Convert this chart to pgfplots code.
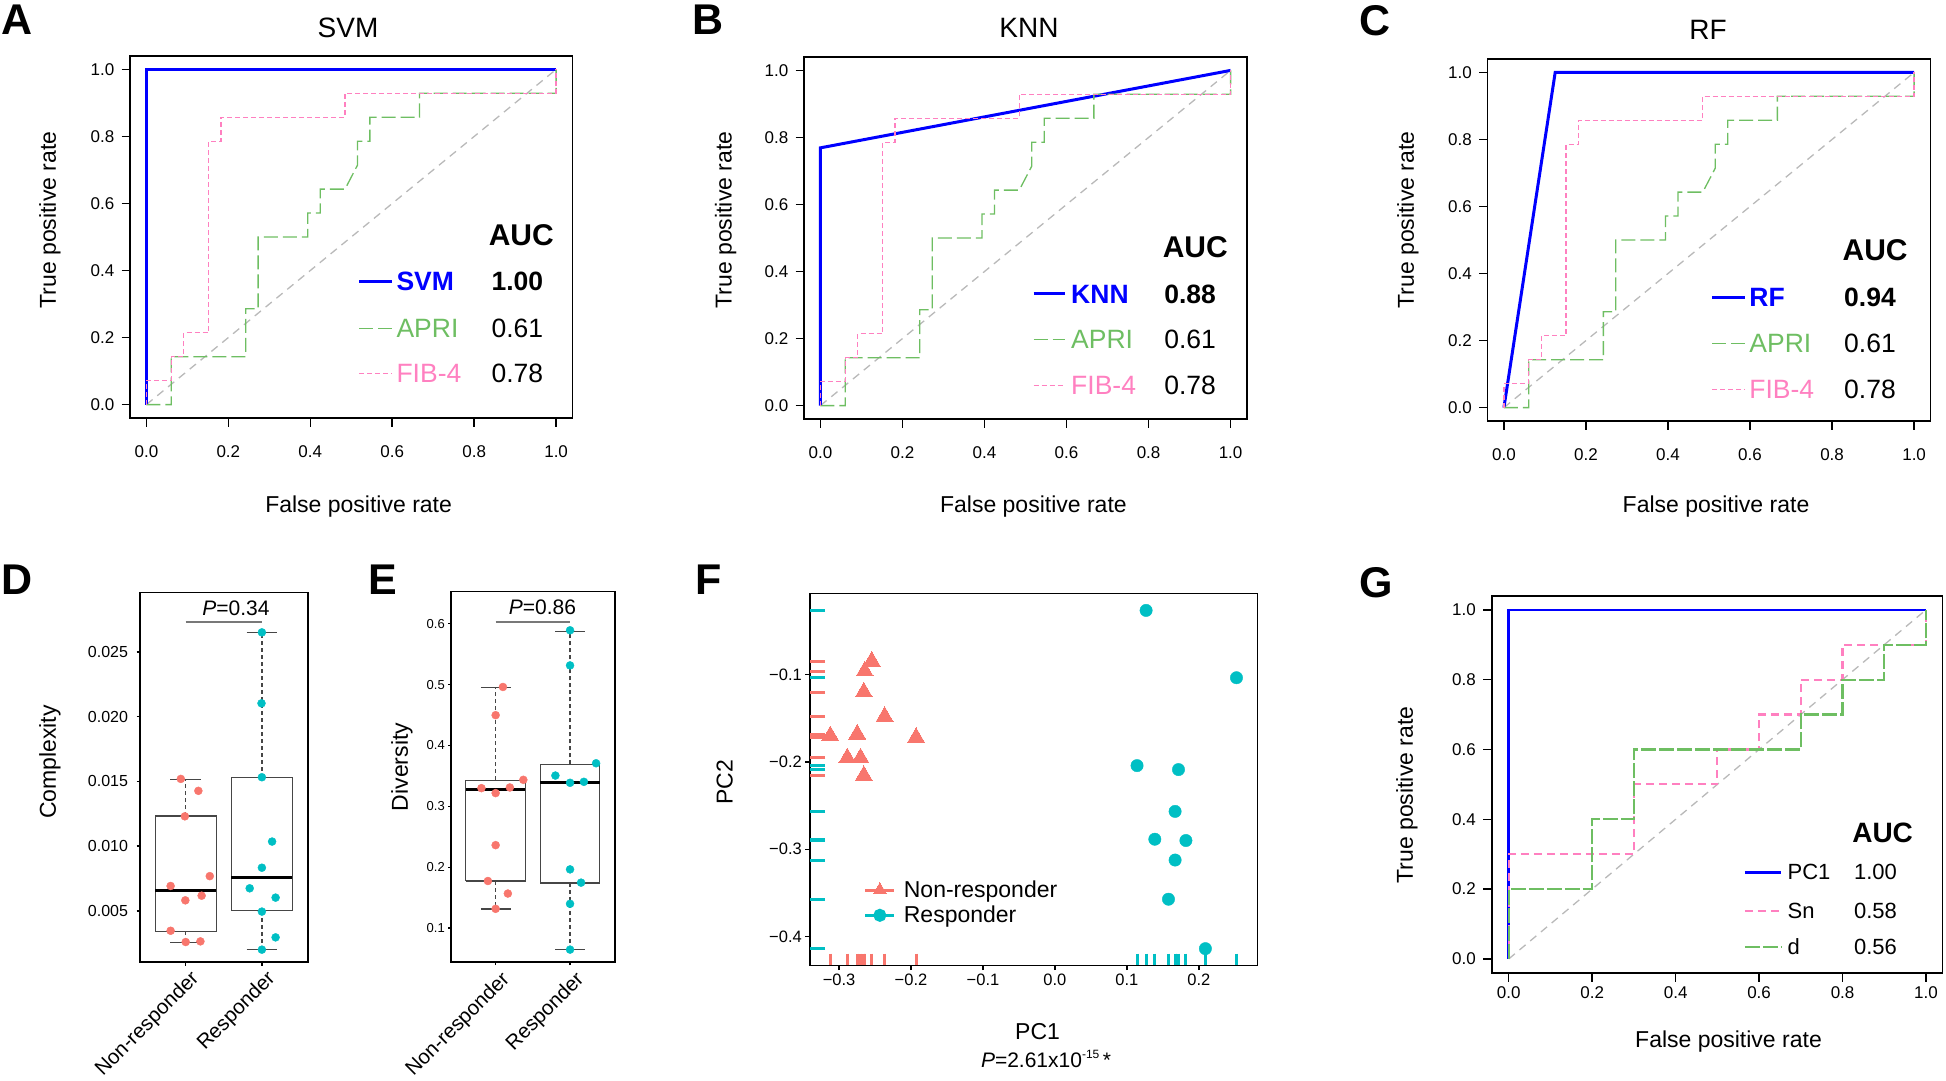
\documentclass[border=0pt]{standalone}
\usepackage{pgfplots}
\pgfplotsset{compat=1.18}
\usepackage{pgfplotstable}
\usepackage{fontspec}
\setmainfont{Liberation Sans}

\definecolor{rocblue}{RGB}{0,0,255}
\definecolor{rocgreen}{RGB}{110,190,98}
\definecolor{rocpink}{RGB}{255,128,192}
\definecolor{diaggray}{RGB}{185,185,185}
\definecolor{nrred}{RGB}{248,118,109}
\definecolor{rcyan}{RGB}{0,191,196}
\definecolor{boxgray}{RGB}{70,70,70}
\definecolor{pgray}{RGB}{120,120,120}
\newcommand{\fs}[1]{\fontsize{#1}{#1}\selectfont}

\pgfplotstableread{
x y
0 0
0.0606 0
0.0606 0.1429
0.2424 0.1429
0.2424 0.2857
0.2727 0.2857
0.2727 0.5
0.3939 0.5
0.3939 0.5714
0.4242 0.5714
0.4242 0.6429
0.4848 0.6429
0.5152 0.7143
0.5152 0.7857
0.5455 0.7857
0.5455 0.8571
0.6667 0.8571
0.6667 0.9286
1 0.9286
1 1
}\apri
\pgfplotstableread{
x y
0 0
0 0.0714
0.0606 0.0714
0.0606 0.1429
0.0909 0.1429
0.0909 0.2143
0.1515 0.2143
0.1515 0.7857
0.1818 0.7857
0.1818 0.8571
0.4848 0.8571
0.4848 0.9286
1 0.9286
1 1
}\fib

\pgfplotsset{
  rocaxis/.style={
    anchor=south west, scale only axis,
    xmin=-0.04, xmax=1.04, ymin=-0.04, ymax=1.04,
    xtick={0,0.2,0.4,0.6,0.8,1}, ytick={0,0.2,0.4,0.6,0.8,1},
    xticklabels={0.0,0.2,0.4,0.6,0.8,1.0}, yticklabels={0.0,0.2,0.4,0.6,0.8,1.0},
    tick align=outside, tick pos=left, major tick length=8.5pt,
    axis line style={line width=1.5pt, black},
    every tick/.style={black, line width=1.5pt},
    tick label style={font=\fs{17}, inner sep=0pt},
    yticklabel style={xshift=-7pt},
  },
}
\tikzset{
  aprl/.style={rocgreen, line width=1.3pt, dash pattern=on 14pt off 5pt},
  fibl/.style={rocpink, line width=1.3pt, dash pattern=on 5pt off 3pt},
  diagl/.style={diaggray, line width=1.3pt, dash pattern=on 8pt off 6pt},
  snl/.style={rocpink, line width=2.2pt, dash pattern=on 8pt off 5pt},
  dl/.style={rocgreen, line width=2.2pt, dash pattern=on 15pt off 3pt},
  legt/.style={anchor=west, inner sep=0pt},
  letter/.style={anchor=north west, inner sep=0pt, font=\fs{43}\bfseries},
}

\begin{document}
\begin{tikzpicture}
\useasboundingbox (0pt,0pt) rectangle (1946pt,-1080pt);

% ---------------- Panel A ----------------
\node[letter] at (1pt,-5pt) {A};
\node[anchor=base, inner sep=0pt, font=\fs{28}] at (348pt,-37pt) {SVM};
\node[rotate=90, inner sep=0pt, font=\fs{23}] at (50pt,-220pt) {True positive rate};
\node[anchor=base, inner sep=0pt, font=\fs{23}] at (358.6pt,-512pt) {False positive rate};
\begin{axis}[rocaxis, at={(130pt,-418pt)}, width=442.5pt, height=362pt,
  xticklabel style={yshift=-18.5pt}]
\addplot[diagl] coordinates {(0,0) (1,1)};
\addplot[rocblue, line width=3pt] coordinates {(0,0) (0,1) (1,1)};
\addplot[aprl] table[x=x,y=y] {\apri};
\addplot[fibl] table[x=x,y=y] {\fib};
\node[font=\fs{30}\bfseries] at (axis cs:0.915,0.505) {AUC};
\draw[rocblue, line width=3pt] (axis cs:0.519,0.367) -- (axis cs:0.600,0.367);
\node[legt, font=\fs{26.5}\bfseries, text=rocblue] at (axis cs:0.610,0.367) {SVM};
\node[legt, font=\fs{26.5}\bfseries] at (axis cs:0.842,0.367) {1.00};
\draw[aprl] (axis cs:0.519,0.228) -- (axis cs:0.600,0.228);
\node[legt, font=\fs{26.5}, text=rocgreen] at (axis cs:0.610,0.228) {APRI};
\node[legt, font=\fs{26.5}] at (axis cs:0.842,0.228) {0.61};
\draw[fibl] (axis cs:0.519,0.093) -- (axis cs:0.600,0.093);
\node[legt, font=\fs{26.5}, text=rocpink] at (axis cs:0.610,0.093) {FIB-4};
\node[legt, font=\fs{26.5}] at (axis cs:0.842,0.093) {0.78};
\end{axis}

% ---------------- Panel B ----------------
\node[letter] at (692pt,-5pt) {B};
\node[anchor=base, inner sep=0pt, font=\fs{28}] at (1029pt,-37pt) {KNN};
\node[rotate=90, inner sep=0pt, font=\fs{23}] at (725.6pt,-220pt) {True positive rate};
\node[anchor=base, inner sep=0pt, font=\fs{23}] at (1033.4pt,-512pt) {False positive rate};
\begin{axis}[rocaxis, at={(804pt,-419pt)}, width=443pt, height=362pt,
  xticklabel style={yshift=-18.5pt}]
\addplot[diagl] coordinates {(0,0) (1,1)};
\addplot[rocblue, line width=3pt] coordinates {(0,0) (0,0.769) (1,1)};
\addplot[aprl] table[x=x,y=y] {\apri};
\addplot[fibl] table[x=x,y=y] {\fib};
\node[font=\fs{30}\bfseries] at (axis cs:0.914,0.474) {AUC};
\draw[rocblue, line width=3pt] (axis cs:0.520,0.333) -- (axis cs:0.596,0.333);
\node[legt, font=\fs{26.5}\bfseries, text=rocblue] at (axis cs:0.611,0.333) {KNN};
\node[legt, font=\fs{26.5}\bfseries] at (axis cs:0.838,0.333) {0.88};
\draw[aprl] (axis cs:0.520,0.197) -- (axis cs:0.596,0.197);
\node[legt, font=\fs{26.5}, text=rocgreen] at (axis cs:0.611,0.197) {APRI};
\node[legt, font=\fs{26.5}] at (axis cs:0.838,0.197) {0.61};
\draw[fibl] (axis cs:0.520,0.060) -- (axis cs:0.596,0.060);
\node[legt, font=\fs{26.5}, text=rocpink] at (axis cs:0.611,0.060) {FIB-4};
\node[legt, font=\fs{26.5}] at (axis cs:0.838,0.060) {0.78};
\end{axis}

% ---------------- Panel C ----------------
\node[letter] at (1359pt,-5pt) {C};
\node[anchor=base, inner sep=0pt, font=\fs{28}] at (1708pt,-39pt) {RF};
\node[rotate=90, inner sep=0pt, font=\fs{23}] at (1408pt,-220pt) {True positive rate};
\node[anchor=base, inner sep=0pt, font=\fs{23}] at (1716pt,-512pt) {False positive rate};
\begin{axis}[rocaxis, at={(1487.5pt,-421pt)}, width=443pt, height=362pt,
  xticklabel style={yshift=-18.5pt}]
\addplot[diagl] coordinates {(0,0) (1,1)};
\addplot[rocblue, line width=3pt] coordinates {(0,0) (0.125,1) (1,1)};
\addplot[aprl] table[x=x,y=y] {\apri};
\addplot[fibl] table[x=x,y=y] {\fib};
\node[font=\fs{30}\bfseries] at (axis cs:0.905,0.469) {AUC};
\draw[rocblue, line width=3pt] (axis cs:0.508,0.328) -- (axis cs:0.588,0.328);
\node[legt, font=\fs{26.5}\bfseries, text=rocblue] at (axis cs:0.598,0.328) {RF};
\node[legt, font=\fs{26.5}\bfseries] at (axis cs:0.829,0.328) {0.94};
\draw[aprl] (axis cs:0.508,0.192) -- (axis cs:0.588,0.192);
\node[legt, font=\fs{26.5}, text=rocgreen] at (axis cs:0.598,0.192) {APRI};
\node[legt, font=\fs{26.5}] at (axis cs:0.829,0.192) {0.61};
\draw[fibl] (axis cs:0.508,0.055) -- (axis cs:0.588,0.055);
\node[legt, font=\fs{26.5}, text=rocpink] at (axis cs:0.598,0.055) {FIB-4};
\node[legt, font=\fs{26.5}] at (axis cs:0.829,0.055) {0.78};
\end{axis}

% ---------------- Panel D ----------------
\node[letter] at (1pt,-565pt) {D};
\node[rotate=90, inner sep=0pt, font=\fs{23}] at (50pt,-762pt) {Complexity};
\begin{axis}[at={(140pt,-962.2pt)}, anchor=south west, scale only axis,
  width=167.6pt, height=369.7pt,
  xmin=0.4, xmax=2.6, ymin=0.00103, ymax=0.02959,
  xtick={1,2}, xticklabels={Non-responder,Responder},
  ytick={0.005,0.01,0.015,0.02,0.025}, yticklabels={0.005,0.010,0.015,0.020,0.025},
  scaled y ticks=false,
  tick align=outside, tick pos=left, major tick length=3.3pt,
  axis line style={line width=1.8pt, black}, every tick/.style={black, line width=1.5pt},
  tick label style={inner sep=0pt},
  yticklabel style={font=\fs{16}, xshift=-8.5pt},
  xticklabel style={font=\fs{20.5}, rotate=45, anchor=north east, yshift=-5pt}]
\addplot[boxgray, line width=1.3pt, dash pattern=on 4pt off 3pt] coordinates {(1,0.01232) (1,0.01514)};
\addplot[boxgray, line width=1.3pt, dash pattern=on 4pt off 3pt] coordinates {(1,0.00343) (1,0.00256)};
\addplot[boxgray, line width=1.5pt] coordinates {(0.8,0.01514) (1.2,0.01514)};
\addplot[boxgray, line width=1.5pt] coordinates {(0.8,0.00256) (1.2,0.00256)};
\addplot[boxgray, line width=1.2pt, fill=white] coordinates {(0.6,0.00343) (1.4,0.00343) (1.4,0.01232) (0.6,0.01232) (0.6,0.00343)};
\addplot[black, line width=3pt] coordinates {(0.6,0.00658) (1.4,0.00658)};
\addplot[boxgray, line width=1.3pt, dash pattern=on 4pt off 3pt] coordinates {(2,0.01529) (2,0.02651)};
\addplot[boxgray, line width=1.3pt, dash pattern=on 4pt off 3pt] coordinates {(2,0.0050) (2,0.0020)};
\addplot[boxgray, line width=1.5pt] coordinates {(1.8,0.02651) (2.2,0.02651)};
\addplot[boxgray, line width=1.5pt] coordinates {(1.8,0.0020) (2.2,0.0020)};
\addplot[boxgray, line width=1.2pt, fill=white] coordinates {(1.6,0.0050) (2.4,0.0050) (2.4,0.01529) (1.6,0.01529) (1.6,0.0050)};
\addplot[black, line width=3pt] coordinates {(1.6,0.00756) (2.4,0.00756)};
\addplot[only marks, mark=*, mark size=4pt, mark options={draw=nrred, fill=nrred}] coordinates {
(0.936,0.01519) (1.166,0.01427) (0.989,0.01230) (0.802,0.00692) (1.316,0.00768)
(0.995,0.00581) (1.209,0.00617) (0.802,0.00346) (1.000,0.00259) (1.193,0.00264)};
\addplot[only marks, mark=*, mark size=4pt, mark options={draw=rcyan, fill=rcyan}] coordinates {
(2.000,0.02651) (1.995,0.02103) (2.000,0.01532) (2.134,0.01035) (2.000,0.00833)
(1.840,0.00674) (2.180,0.00602) (2.000,0.00494) (2.180,0.00295) (2.000,0.00200)};
\draw[pgray, line width=1.5pt] (axis cs:1,0.02731) -- (axis cs:2,0.02731);
\node[inner sep=0pt, font=\fs{21}] at (axis cs:1.66,0.02838) {\textit{P}=0.34};
\end{axis}

% ---------------- Panel E ----------------
\node[letter] at (368pt,-565pt) {E};
\node[rotate=90, inner sep=0pt, font=\fs{23}] at (402pt,-767pt) {Diversity};
\begin{axis}[at={(451pt,-962.2pt)}, anchor=south west, scale only axis,
  width=163.7pt, height=370.7pt,
  xmin=0.4, xmax=2.6, ymin=0.0439, ymax=0.6528,
  xtick={1,2}, xticklabels={Non-responder,Responder},
  ytick={0.1,0.2,0.3,0.4,0.5,0.6}, yticklabels={0.1,0.2,0.3,0.4,0.5,0.6},
  tick align=outside, tick pos=left, major tick length=3pt,
  axis line style={line width=1.8pt, black}, every tick/.style={black, line width=1.2pt},
  tick label style={inner sep=0pt},
  yticklabel style={font=\fs{13}, xshift=-3pt},
  xticklabel style={font=\fs{20.5}, rotate=45, anchor=north east, yshift=-6pt}]
\addplot[boxgray, line width=1.3pt, dash pattern=on 4pt off 3pt] coordinates {(1,0.3429) (1,0.4949)};
\addplot[boxgray, line width=1.3pt, dash pattern=on 4pt off 3pt] coordinates {(1,0.1773) (1,0.1316)};
\addplot[boxgray, line width=1.5pt] coordinates {(0.8,0.4949) (1.2,0.4949)};
\addplot[boxgray, line width=1.5pt] coordinates {(0.8,0.1316) (1.2,0.1316)};
\addplot[boxgray, line width=1.2pt, fill=white] coordinates {(0.6,0.1773) (1.4,0.1773) (1.4,0.3429) (0.6,0.3429) (0.6,0.1773)};
\addplot[black, line width=3pt] coordinates {(0.6,0.3271) (1.4,0.3271)};
\addplot[boxgray, line width=1.3pt, dash pattern=on 4pt off 3pt] coordinates {(2,0.3690) (2,0.5875)};
\addplot[boxgray, line width=1.3pt, dash pattern=on 4pt off 3pt] coordinates {(2,0.1741) (2,0.0646)};
\addplot[boxgray, line width=1.5pt] coordinates {(1.8,0.5875) (2.2,0.5875)};
\addplot[boxgray, line width=1.5pt] coordinates {(1.8,0.0646) (2.2,0.0646)};
\addplot[boxgray, line width=1.2pt, fill=white] coordinates {(1.6,0.1741) (2.4,0.1741) (2.4,0.3690) (1.6,0.3690) (1.6,0.1741)};
\addplot[black, line width=3pt] coordinates {(1.6,0.3391) (2.4,0.3391)};
\addplot[only marks, mark=*, mark size=4pt, mark options={draw=nrred, fill=nrred}] coordinates {
(1.098,0.4960) (1.000,0.4497) (0.809,0.3298) (1.191,0.3309) (1.372,0.3435)
(1.000,0.3217) (1.000,0.2362) (0.896,0.1773) (1.164,0.1567) (1.000,0.1316)};
\addplot[only marks, mark=*, mark size=4pt, mark options={draw=rcyan, fill=rcyan}] coordinates {
(2.000,0.5891) (2.000,0.5314) (2.350,0.3707) (1.803,0.3505) (2.000,0.3386)
(2.186,0.3402) (2.000,0.1964) (2.148,0.1746) (2.000,0.1398) (2.000,0.0646)};
\draw[pgray, line width=1.5pt] (axis cs:1,0.6027) -- (axis cs:2,0.6027);
\node[inner sep=0pt, font=\fs{21}] at (axis cs:1.628,0.6267) {\textit{P}=0.86};
\end{axis}

% ---------------- Panel F ----------------
\node[letter] at (695pt,-565pt) {F};
\node[rotate=90, inner sep=0pt, font=\fs{23}] at (724.6pt,-782pt) {PC2};
\node[anchor=base, inner sep=0pt, font=\fs{23}] at (1037.6pt,-1039pt) {PC1};
\node[anchor=base, inner sep=0pt, font=\fs{21}] at (1046pt,-1067.4pt) {\textit{P}=2.61x10\raisebox{0.42em}{\fs{12}-15}\,*};
\begin{axis}[at={(810pt,-965.2pt)}, anchor=south west, scale only axis,
  width=447.2pt, height=372pt,
  xmin=-0.3404, xmax=0.2811, ymin=-0.4331, ymax=-0.00646,
  xtick={-0.3,-0.2,-0.1,0,0.1,0.2}, xticklabels={−0.3,−0.2,−0.1,0.0,0.1,0.2},
  ytick={-0.4,-0.3,-0.2,-0.1}, yticklabels={−0.4,−0.3,−0.2,−0.1},
  tick align=outside, tick pos=left, major tick length=5pt,
  axis line style={line width=1.3pt, black}, every tick/.style={black, line width=1.3pt},
  tick label style={font=\fs{16.5}, inner sep=0pt},
  yticklabel style={xshift=-3pt},
  xticklabel style={yshift=-4pt},
  legend style={at={(0.12,0.168)}, anchor=west, draw=none, fill=none, inner sep=0pt,
    row sep=7pt, column sep=8pt, font=\fs{23}, nodes={inner sep=0pt}},
  legend cell align=left,
  legend image code/.code={\draw[mark repeat=2, mark phase=2, #1] plot coordinates {(0pt,0pt) (14.5pt,0pt) (29pt,0pt)};}]
\addplot[forget plot, only marks, mark=|, mark size=5.8pt, mark options={draw=nrred, line width=3pt, yshift=5.8pt}] coordinates {
(-0.2546,-0.4331) (-0.2644,-0.4331) (-0.2656,-0.4331) (-0.2367,-0.4331) (-0.3122,-0.4331)
(-0.2748,-0.4331) (-0.1930,-0.4331) (-0.2886,-0.4331) (-0.2702,-0.4331) (-0.2656,-0.4331)};
\addplot[forget plot, only marks, mark=|, mark size=5.8pt, mark options={draw=rcyan, line width=3pt, yshift=5.8pt}] coordinates {
(0.1267,-0.4331) (0.2523,-0.4331) (0.1141,-0.4331) (0.1717,-0.4331) (0.1670,-0.4331)
(0.1388,-0.4331) (0.1820,-0.4331) (0.1670,-0.4331) (0.1578,-0.4331) (0.2091,-0.4331)};
\addplot[forget plot, only marks, mark=-, mark size=7.5pt, mark options={draw=nrred, line width=3pt, xshift=7.5pt}] coordinates {
(-0.3404,-0.0844) (-0.3404,-0.0958) (-0.3404,-0.1198) (-0.3404,-0.1479) (-0.3404,-0.1700)
(-0.3404,-0.1681) (-0.3404,-0.1719) (-0.3404,-0.1954) (-0.3404,-0.1954) (-0.3404,-0.2156)};
\addplot[forget plot, only marks, mark=-, mark size=7.5pt, mark options={draw=rcyan, line width=3pt, xshift=7.5pt}] coordinates {
(-0.3404,-0.0262) (-0.3404,-0.1034) (-0.3404,-0.2042) (-0.3404,-0.2087) (-0.3404,-0.2567)
(-0.3404,-0.2886) (-0.3404,-0.2901) (-0.3404,-0.3125) (-0.3404,-0.3574) (-0.3404,-0.4141)};
\addplot[forget plot, only marks, mark=triangle*, mark size=9.7pt, mark options={draw=nrred, fill=nrred, line width=0pt}] coordinates {
(-0.2546,-0.0844) (-0.2644,-0.0958) (-0.2656,-0.1198) (-0.2367,-0.1479) (-0.3122,-0.1700)
(-0.2748,-0.1681) (-0.1930,-0.1719) (-0.2886,-0.1954) (-0.2702,-0.1954) (-0.2656,-0.2156)};
\addplot[forget plot, only marks, mark=*, mark size=6.2pt, mark options={draw=rcyan, fill=rcyan}] coordinates {
(0.1267,-0.0262) (0.2523,-0.1034) (0.1141,-0.2042) (0.1717,-0.2087) (0.1670,-0.2567)
(0.1388,-0.2886) (0.1820,-0.2901) (0.1670,-0.3125) (0.1578,-0.3574) (0.2091,-0.4141)};
\addlegendimage{nrred, line width=3pt, mark=triangle*, mark size=7.5pt, mark options={solid, fill=nrred, line width=0pt}}
\addlegendentry{Non-responder}
\addlegendimage{rcyan, line width=3pt, mark=*, mark size=5pt, mark options={solid, fill=rcyan}}
\addlegendentry{Responder}
\end{axis}

% ---------------- Panel G ----------------
\node[letter] at (1359pt,-567pt) {G};
\node[rotate=90, inner sep=0pt, font=\fs{23}] at (1407pt,-795pt) {True positive rate};
\node[anchor=base, inner sep=0pt, font=\fs{23}] at (1728.5pt,-1047.5pt) {False positive rate};
\begin{axis}[rocaxis, at={(1492pt,-972.9pt)}, width=450.7pt, height=377.1pt,
  major tick length=9pt,
  xticklabel style={yshift=-5pt}]
\addplot[diagl] coordinates {(0,0) (1,1)};
\addplot[rocblue, line width=2.5pt] coordinates {(0,0) (0,1) (1,1)};
\addplot[snl] coordinates {
(0,0) (0,0.3) (0.3,0.3) (0.3,0.5) (0.5,0.5) (0.5,0.6) (0.6,0.6) (0.6,0.7) (0.7,0.7)
(0.7,0.8) (0.8,0.8) (0.8,0.9) (1,0.9) (1,1)};
\addplot[dl] coordinates {
(0,0) (0,0.2) (0.2,0.2) (0.2,0.4) (0.3,0.4) (0.3,0.6) (0.7,0.6) (0.7,0.7) (0.8,0.7)
(0.8,0.8) (0.9,0.8) (0.9,0.9) (1,0.9) (1,1)};
\node[font=\fs{28}\bfseries] at (axis cs:0.896,0.362) {AUC};
\draw[rocblue, line width=2.5pt] (axis cs:0.566,0.248) -- (axis cs:0.653,0.248);
\node[legt, font=\fs{22}] at (axis cs:0.668,0.248) {PC1};
\node[legt, font=\fs{22}] at (axis cs:0.827,0.248) {1.00};
\draw[snl] (axis cs:0.566,0.137) -- (axis cs:0.653,0.137);
\node[legt, font=\fs{22}] at (axis cs:0.668,0.137) {Sn};
\node[legt, font=\fs{22}] at (axis cs:0.827,0.137) {0.58};
\draw[dl] (axis cs:0.566,0.035) -- (axis cs:0.653,0.035);
\node[legt, font=\fs{22}] at (axis cs:0.668,0.035) {d};
\node[legt, font=\fs{22}] at (axis cs:0.827,0.035) {0.56};
\end{axis}
\end{tikzpicture}
\end{document}
